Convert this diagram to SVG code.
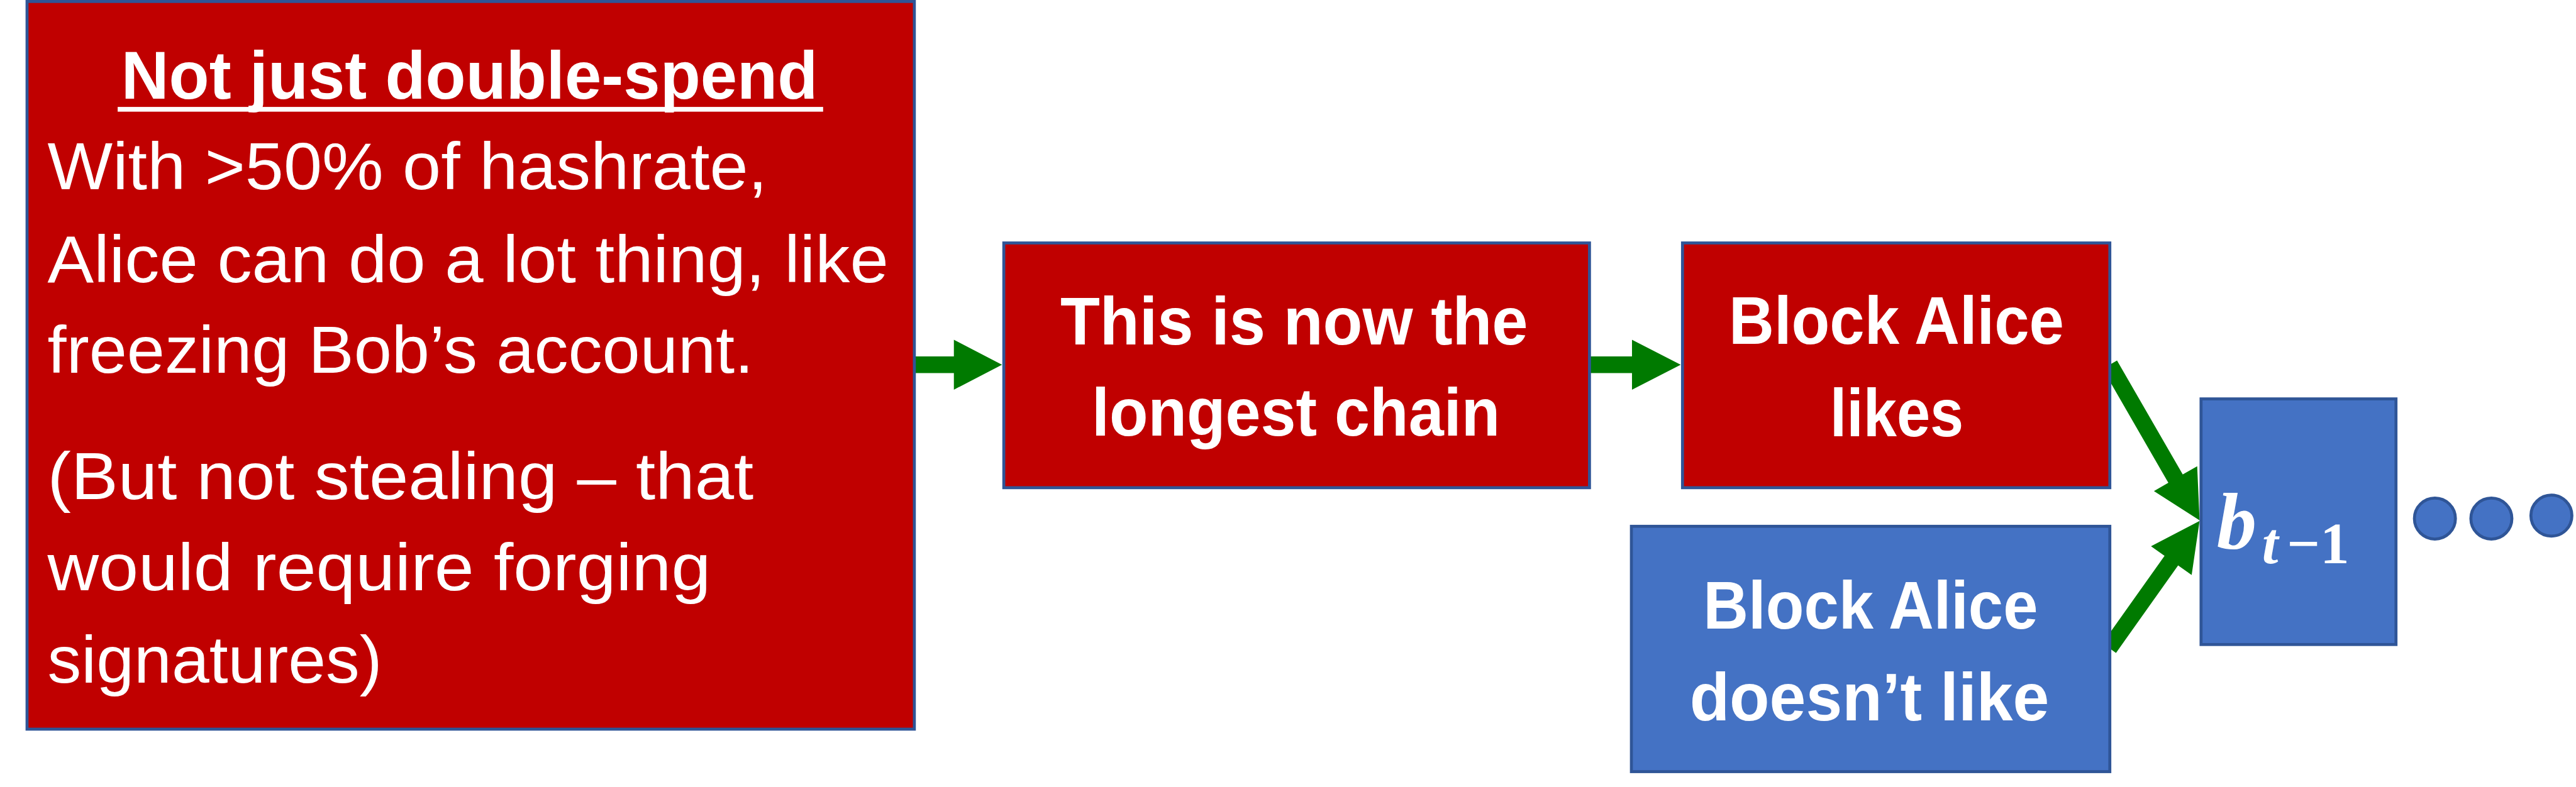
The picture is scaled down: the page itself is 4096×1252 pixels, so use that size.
<svg xmlns="http://www.w3.org/2000/svg" width="4096" height="1252" viewBox="0 0 4096 1252">
<style>
.red{fill:#C00000;stroke:#2F5597;stroke-width:5}
.blue{fill:#4472C4;stroke:#2F5597;stroke-width:5}
.t{font-family:"Liberation Sans",Arial,sans-serif;fill:#FFFFFF}
.b{font-weight:bold;font-size:113px}
.r{font-size:111px}
.arr{fill:#007A00}
.m{font-family:"Liberation Serif","Times New Roman",serif;fill:#FFFFFF;font-weight:bold}
</style>
<rect width="4096" height="1252" fill="#FFFFFF"/>
<g transform="scale(0.945)">
<g id="connectors">
<polygon class="arr" points="1538,600 1605,600 1605,572 1686,614 1605,656 1605,628 1538,628"/>
<polygon class="arr" points="2675,600 2746,600 2746,572 2828,614 2746,656 2746,628 2675,628"/>
<polygon class="arr" points="3562.1,607 3672.7,798.8 3697,784.8 3701,876 3624.2,826.8 3648.5,812.8 3537.9,621"/>
<polygon class="arr" points="3537.6,1082.9 3642.1,935.7 3619.3,919.5 3701,877 3687.7,968.1 3664.9,951.9 3560.4,1099.1"/>
</g>
<g id="node-explain">
<rect class="red" x="45.5" y="2.5" width="1493" height="1225"/>
<text class="t b" x="790" y="166" text-anchor="middle" textLength="1172" lengthAdjust="spacingAndGlyphs">Not just double-spend</text>
<rect x="198" y="180" width="1187" height="8" fill="#FFFFFF"/>
<text class="t r" x="80" y="319" textLength="1211" lengthAdjust="spacingAndGlyphs">With &gt;50% of hashrate,</text>
<text class="t r" x="80" y="475" textLength="1415" lengthAdjust="spacingAndGlyphs">Alice can do a lot thing, like</text>
<text class="t r" x="80" y="628" textLength="1188" lengthAdjust="spacingAndGlyphs">freezing Bob’s account.</text>
<text class="t r" x="80" y="840" textLength="1188" lengthAdjust="spacingAndGlyphs">(But not stealing – that</text>
<text class="t r" x="80" y="994" textLength="1116" lengthAdjust="spacingAndGlyphs">would require forging</text>
<text class="t r" x="80" y="1149" textLength="563" lengthAdjust="spacingAndGlyphs">signatures)</text>
</g>
<g id="node-longest">
<rect class="red" x="1689" y="409" width="985.5" height="412"/>
<text class="t b" x="2177.5" y="580" text-anchor="middle" textLength="787" lengthAdjust="spacingAndGlyphs">This is now the</text>
<text class="t b" x="2180.5" y="733" text-anchor="middle" textLength="687" lengthAdjust="spacingAndGlyphs">longest chain</text>
</g>
<g id="node-likes">
<rect class="red" x="2831" y="409" width="719" height="412"/>
<text class="t b" x="3191" y="579" text-anchor="middle" textLength="564" lengthAdjust="spacingAndGlyphs">Block Alice</text>
<text class="t b" x="3191.5" y="734" text-anchor="middle" textLength="225" lengthAdjust="spacingAndGlyphs">likes</text>
</g>
<g id="node-dislikes">
<rect class="blue" x="2745" y="886" width="805" height="413"/>
<text class="t b" x="3147.5" y="1058" text-anchor="middle" textLength="563" lengthAdjust="spacingAndGlyphs">Block Alice</text>
<text class="t b" x="3145.5" y="1213" text-anchor="middle" textLength="605" lengthAdjust="spacingAndGlyphs">doesn’t like</text>
</g>
<g id="node-bt1">
<rect class="blue" x="3703.5" y="671.5" width="328" height="413.5"/>
<text class="m"><tspan x="3730" y="923" font-size="134" font-style="italic">b</tspan><tspan x="3806" y="948" font-size="98" font-style="italic">t</tspan><tspan x="3848" y="948" font-size="98">−1</tspan></text>
</g>
<g id="node-dots">
<circle class="blue" cx="4097" cy="873" r="34.5"/>
<circle class="blue" cx="4192" cy="873" r="34.5"/>
<circle class="blue" cx="4293" cy="868" r="34.5"/>
</g>
</g>
</svg>
